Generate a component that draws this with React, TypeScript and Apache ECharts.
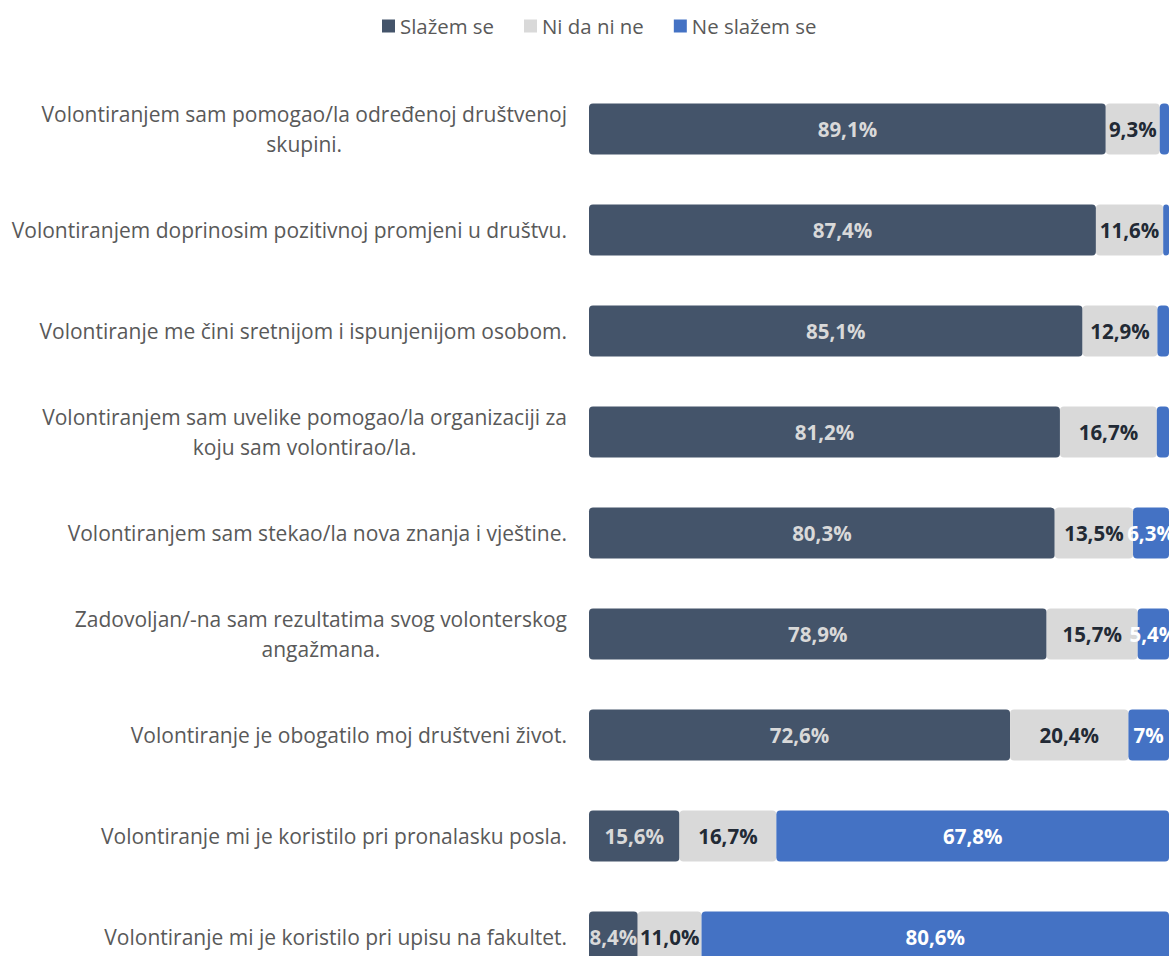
import React, { useEffect, useRef } from "react";
import * as echarts from "echarts";

const categories = [
  "Volontiranjem sam pomogao/la određenoj društvenoj\nskupini.",
  "Volontiranjem doprinosim pozitivnoj promjeni u društvu.",
  "Volontiranje me čini sretnijom i ispunjenijom osobom.",
  "Volontiranjem sam uvelike pomogao/la organizaciji za\nkoju sam volontirao/la.",
  "Volontiranjem sam stekao/la nova znanja i vještine.",
  "Zadovoljan/-na sam rezultatima svog volonterskog\nangažmana.",
  "Volontiranje je obogatilo moj društveni život.",
  "Volontiranje mi je koristilo pri pronalasku posla.",
  "Volontiranje mi je koristilo pri upisu na fakultet.",
];

const seriesNames = ["Slažem se", "Ni da ni ne", "Ne slažem se"];

const agreeValues = [89.1, 87.4, 85.1, 81.2, 80.3, 78.9, 72.6, 15.6, 8.4];
const neutralValues = [9.3, 11.6, 12.9, 16.7, 13.5, 15.7, 20.4, 16.7, 11.0];
const disagreeValues = [1.6, 1.0, 2.0, 2.1, 6.3, 5.4, 7.0, 67.8, 80.6];

const agreeLabels = ["89,1%", "87,4%", "85,1%", "81,2%", "80,3%", "78,9%", "72,6%", "15,6%", "8,4%"];
const neutralLabels = ["9,3%", "11,6%", "12,9%", "16,7%", "13,5%", "15,7%", "20,4%", "16,7%", "11,0%"];
const disagreeLabels = ["", "", "", "", "6,3%", "5,4%", "7%", "67,8%", "80,6%"];

const colors = ["#44546A", "#D9D9D9", "#4472C4"];
const labelColors = ["#D9D9D9", "#222A35", "#FFFFFF"];

const FONT = "'Open Sans', 'Noto Sans', sans-serif";

export default function App() {
  const ref = useRef<HTMLDivElement>(null);

  useEffect(() => {
    if (!ref.current) return;
    const chart = echarts.init(ref.current, undefined, { renderer: "svg" });
    const valueSets = [agreeValues, neutralValues, disagreeValues];
    const labelSets = [agreeLabels, neutralLabels, disagreeLabels];

    const series = seriesNames.map((name, si) => ({
      name,
      type: "bar",
      stack: "total",
      barWidth: 51,
      itemStyle: { color: colors[si], borderRadius: 4 },
      label: {
        show: true,
        position: "inside",
        fontFamily: FONT,
        fontWeight: "bold",
        fontSize: 20.5,
        color: labelColors[si],
        formatter: (p: any) => labelSets[si][p.dataIndex],
      },
      data: valueSets[si].map((v, i) => ({
        value: v,
        label: { show: labelSets[si][i] !== "" },
      })),
    }));

    chart.setOption({
      animation: false,
      color: colors,
      textStyle: { fontFamily: FONT },
      legend: {
        top: 16,
        left: 382,
        padding: 0,
        icon: "rect",
        itemWidth: 13,
        itemHeight: 13,
        itemGap: 30,
        textStyle: { fontSize: 20.4, color: "#595959", fontFamily: FONT },
        data: seriesNames,
      },
      grid: { left: 589, right: 2, top: 78.5, height: 909, containLabel: false },
      xAxis: {
        type: "value",
        min: 0,
        max: 100,
        show: false,
      },
      yAxis: {
        type: "category",
        inverse: true,
        data: categories,
        axisLine: { show: false },
        axisTick: { show: false },
        axisLabel: {
          margin: 22,
          formatter: (v: string) =>
            v
              .split("\n")
              .map((l) => `{c|${l}}`)
              .join("\n"),
          rich: {
            c: {
              align: "center",
              fontSize: 21,
              lineHeight: 30,
              color: "#595959",
              fontFamily: FONT,
            },
          },
        },
      },
      series,
    });

    return () => chart.dispose();
  }, []);

  return (
    <div
      style={{
        position: "fixed",
        left: 0,
        top: 0,
        width: 1171,
        height: 956,
        overflow: "hidden",
        background: "#fff",
      }}
    >
      <div ref={ref} style={{ width: 1171, height: 1010 }} />
    </div>
  );
}
